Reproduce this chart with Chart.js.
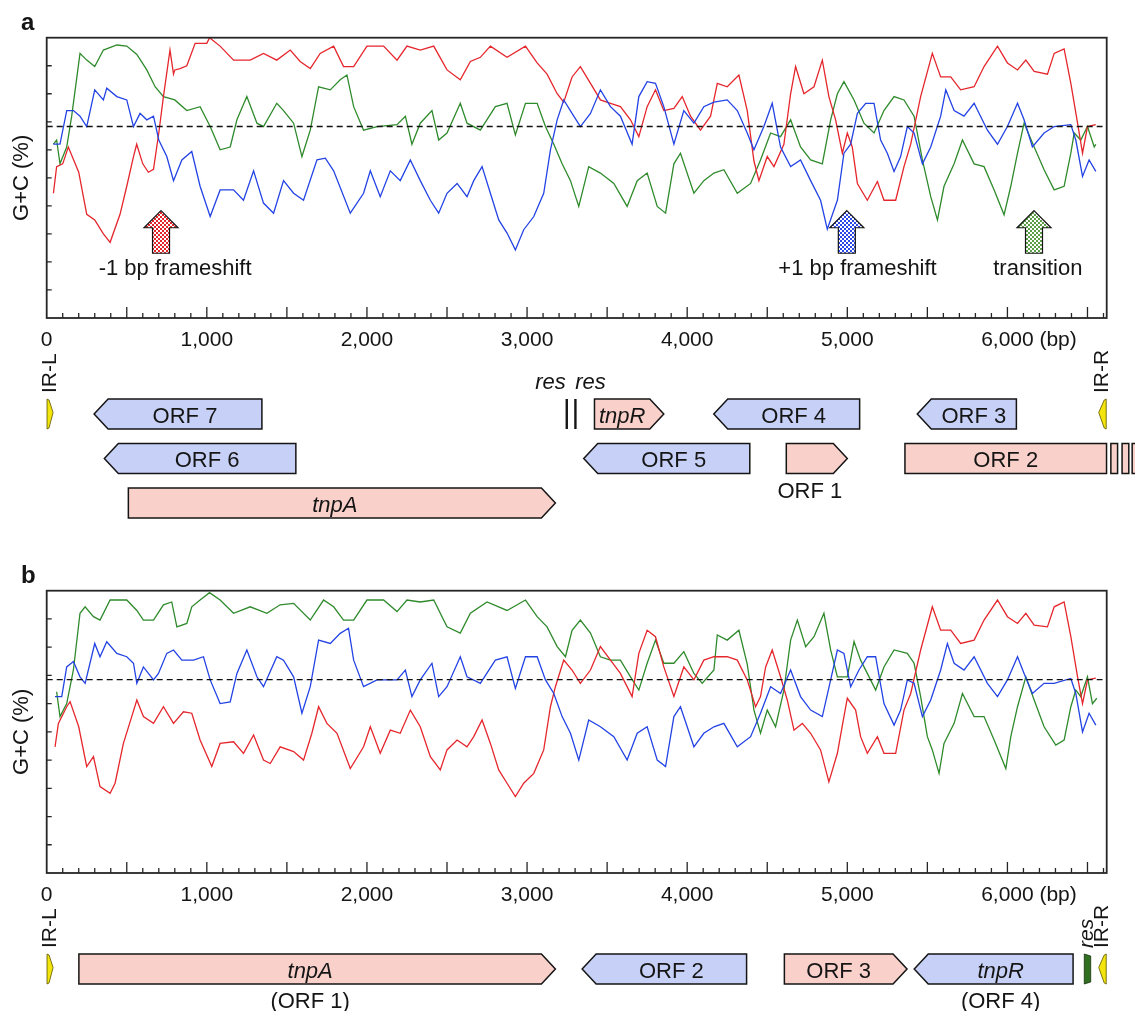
<!DOCTYPE html>
<html>
<head>
<meta charset="utf-8">
<script src="https://cdn.jsdelivr.net/npm/chart.js@4.4.0/dist/chart.umd.min.js"></script>
<style>
  html, body { margin: 0; padding: 0; background: #fff; }
  #wrap { position: relative; width: 1135px; height: 1011px; overflow: hidden; }
  canvas { position: absolute; left: 0; }
  #chartA { top: 0; }
  #chartB { top: 548px; }
</style>
</head>
<body>
<div id="wrap">
  <canvas id="chartA" width="1135" height="548"></canvas>
  <canvas id="chartB" width="1135" height="463"></canvas>
</div>
<script>
// G+C skew in the three codon positions, [position (bp), G+C (%)]
const redA = [[42,44.5],[62,54],[100,55],[135,61],[200,52],[250,37],[300,35],[354,30],[396,27],[458,37],[500,47],[542,57.6],[562,62],[600,55],[635,52],[667,53],[700,66],[729,79],[770,95.6],[792,87],[800,88.5],[833,89],[875,90],[927,98],[1000,98],[1017,100],[1083,97],[1167,92],[1271,92],[1354,94.4],[1437,92],[1521,95.6],[1583,91.5],[1646,89],[1708,94.4],[1792,97],[1854,89.7],[1917,89.7],[2000,97],[2104,97],[2188,92],[2250,97],[2333,95.6],[2417,97],[2500,88.5],[2583,85],[2646,91.5],[2708,93],[2771,97],[2875,93],[2990,97],[3063,91],[3125,87],[3188,80],[3229,77],[3281,86],[3333,89.7],[3396,83.7],[3458,77.8],[3521,76.6],[3583,75.4],[3646,70.7],[3698,64.7],[3750,75.4],[3802,81.4],[3854,74],[3917,74.8],[3969,79],[4021,72],[4083,67],[4146,72],[4188,83.7],[4250,82.5],[4323,86.7],[4375,74],[4417,56],[4448,49],[4500,57.6],[4542,54],[4604,62],[4646,80],[4677,89.7],[4729,80],[4792,82.5],[4844,92],[4885,79],[4927,70.7],[4969,58.8],[5000,66],[5031,61],[5063,48],[5125,42],[5188,48.7],[5229,42],[5302,42],[5354,54],[5396,62],[5458,79],[5531,94.4],[5583,86],[5646,86],[5708,81.4],[5792,82.5],[5854,89.7],[5938,97],[6000,91],[6063,88.5],[6115,92],[6167,88],[6250,87],[6292,94.4],[6354,96],[6396,83.7],[6438,69.5],[6469,58.8],[6500,68.3],[6552,69]];
const greenA = [[42,62],[62,63.5],[83,55],[125,61],[156,72],[208,94.4],[250,92],[300,89.7],[354,95.6],[438,97.4],[500,97],[563,94],[625,88.5],[677,82.5],[729,79],[800,77.8],[875,74],[958,75.4],[1021,68.3],[1083,60],[1146,61],[1188,70.7],[1250,79],[1313,69.5],[1354,68.3],[1437,76.6],[1479,74],[1542,69.5],[1594,57.6],[1646,67],[1698,82.5],[1771,81.4],[1833,85],[1875,86.7],[1917,75.4],[1979,67],[2063,68.3],[2188,69],[2240,72],[2281,62],[2333,69.5],[2406,74],[2448,63.5],[2500,66],[2583,76.6],[2625,69.5],[2708,67],[2802,75.4],[2875,76.6],[2927,65.3],[2990,76.6],[3063,76.6],[3115,68.3],[3167,62],[3219,55],[3271,49],[3323,39.8],[3385,54],[3458,51.7],[3542,48],[3625,39.8],[3688,49],[3750,51.7],[3813,39.8],[3865,37.4],[3917,55],[3958,58.8],[4042,44.5],[4104,49],[4167,51.7],[4229,52.9],[4313,44.5],[4396,48],[4458,56.4],[4521,66],[4583,64.7],[4646,70.7],[4708,61],[4771,56.4],[4844,55],[4896,70.7],[4938,80],[4979,84.3],[5042,77.8],[5104,69.5],[5167,66],[5229,74],[5292,79],[5354,77.8],[5417,72],[5469,56.4],[5521,43.3],[5563,35],[5604,47],[5667,55],[5719,63.5],[5792,55],[5854,54],[5917,45.7],[5979,36.8],[6021,47],[6063,58.8],[6104,69.5],[6167,61],[6229,52.9],[6292,45.7],[6354,47],[6396,58.8],[6417,66],[6458,63.5],[6500,68.3],[6542,61],[6552,62]];
const blueA = [[42,62],[83,62],[125,74],[167,74],[208,72],[250,68.3],[300,81.4],[354,77.8],[375,82],[438,79],[500,77.8],[542,68.3],[583,73],[625,70.7],[667,72],[700,63.5],[750,57.6],[792,49],[844,56.4],[906,59.4],[958,47],[1021,36.2],[1083,45.7],[1167,45.7],[1229,42],[1292,52.5],[1354,41],[1417,37.4],[1479,49],[1542,44.5],[1604,42],[1688,56.4],[1740,57],[1792,52.5],[1896,37.4],[1979,44.5],[2021,52.5],[2083,43.3],[2146,52.5],[2208,49],[2271,56.4],[2333,49],[2396,42],[2448,37.4],[2500,44.5],[2563,48],[2625,43.3],[2667,49],[2719,54],[2771,44.5],[2823,35],[2875,30.3],[2927,24.3],[2979,31.5],[3042,36.2],[3104,44.5],[3146,60],[3188,70.7],[3229,77.8],[3281,73],[3333,68.3],[3396,73],[3458,81.4],[3521,75.4],[3583,72],[3656,62],[3698,79],[3750,84.3],[3802,83.7],[3854,75.4],[3917,62],[3979,74],[4042,69.5],[4104,75.4],[4167,77],[4250,77.8],[4313,74],[4375,66],[4417,60],[4479,68.3],[4531,76.6],[4583,61],[4646,54],[4708,56.4],[4771,49],[4833,42],[4875,31.7],[4938,42],[4979,58.8],[5021,62],[5063,73],[5115,76.6],[5167,76.6],[5208,63.5],[5250,58.8],[5292,52.3],[5333,57.6],[5375,68.3],[5417,66],[5469,55],[5521,61],[5583,72],[5615,81.4],[5667,74],[5729,72],[5792,76.6],[5875,67],[5938,62],[6000,68.3],[6063,76.6],[6104,70.7],[6156,61],[6229,66],[6292,68.3],[6396,69],[6427,63.5],[6469,50.5],[6510,56.4],[6552,52.3]];

const redB = [[52,44.7],[73,53],[125,58.9],[146,60.7],[200,51.8],[250,37.7],[292,41.2],[333,30.6],[396,28.2],[427,31.8],[479,45.9],[531,55.4],[563,61.3],[604,55.4],[667,53],[729,58.9],[792,53],[854,57.1],[906,56.6],[958,47.1],[1031,37.7],[1083,45.9],[1167,46.5],[1229,42.4],[1292,48.9],[1354,40],[1396,38.8],[1458,44.7],[1542,43],[1604,40],[1656,49.5],[1698,58.9],[1750,53],[1813,49.5],[1896,37],[1979,44.7],[2021,51.8],[2083,42.4],[2146,50.6],[2208,49.5],[2271,57.7],[2333,51.8],[2396,41.2],[2458,36.5],[2500,43.6],[2563,47.1],[2625,44.7],[2667,48.3],[2719,54.2],[2771,45.9],[2823,36.5],[2875,31.8],[2927,27.1],[2979,31.8],[3042,35.3],[3104,43.6],[3146,58.9],[3177,66],[3229,75.4],[3281,71.9],[3333,67.2],[3396,71.9],[3458,80.2],[3521,75.4],[3583,70.7],[3656,62.5],[3698,77.8],[3750,86],[3802,83.7],[3854,73],[3917,62.5],[3979,73],[4042,68.4],[4104,75.4],[4167,76.6],[4250,76.6],[4313,75.4],[4375,68.4],[4427,58.9],[4458,62.5],[4490,73],[4531,79],[4583,69.5],[4625,61.3],[4667,50.6],[4719,53],[4771,49.5],[4833,43.6],[4885,32.3],[4938,42.4],[4979,55.4],[5000,61.9],[5052,57.7],[5083,48.3],[5125,42.4],[5188,48.3],[5229,42.4],[5302,42.4],[5354,57.7],[5396,63.6],[5458,79],[5531,94.3],[5583,86],[5646,86],[5708,81.3],[5792,82.5],[5854,89.6],[5938,96.7],[6000,90.8],[6063,88.4],[6115,92],[6167,87.8],[6250,87.2],[6292,94.3],[6354,96],[6396,83.7],[6438,69.5],[6469,60],[6500,68.4],[6552,69]];
const greenB = [[62,64.2],[83,55.4],[125,60],[167,72],[208,92],[240,94.3],[292,90.8],[333,89.6],[396,96.7],[500,96.7],[563,93],[604,89.6],[667,89.6],[729,95],[781,96],[813,87.2],[875,88.4],[906,94.3],[958,96.7],[1017,99.3],[1083,96.7],[1167,92],[1271,94.3],[1375,92],[1458,95],[1542,95.5],[1646,89.6],[1729,96.7],[1792,94.3],[1854,89.6],[1917,89.6],[2000,96.7],[2104,96.7],[2188,92.6],[2250,96.7],[2333,96],[2417,96.7],[2500,87.2],[2583,85],[2646,92],[2750,96],[2875,93],[2990,96.7],[3063,90.8],[3125,87.2],[3188,80.2],[3240,76.6],[3281,86],[3333,89.6],[3396,85],[3458,76.6],[3521,75.4],[3583,75.4],[3646,69.5],[3698,64.8],[3750,74.3],[3802,82.5],[3854,74.3],[3917,74.3],[3979,78.4],[4042,70.7],[4094,67.2],[4167,71.9],[4188,84.3],[4250,82.5],[4323,86],[4375,74],[4417,57.7],[4458,49.5],[4500,57.7],[4552,51.8],[4604,64.8],[4646,82.5],[4688,89.6],[4740,80.2],[4792,83.7],[4854,92],[4896,79],[4938,69.5],[5000,69.5],[5042,82],[5083,75.4],[5125,70.7],[5177,64.8],[5229,73],[5292,79],[5375,77.8],[5417,74.3],[5458,62.5],[5500,48.3],[5531,43.6],[5573,35.3],[5604,45.9],[5667,53],[5719,63.6],[5792,55.4],[5854,55.4],[5917,47.1],[5990,37],[6021,48.3],[6063,58.9],[6115,69.5],[6167,61.3],[6229,51.8],[6302,45.3],[6354,47.1],[6396,58.9],[6427,64.8],[6458,62.5],[6500,69.5],[6531,60],[6558,61.9]];
const blueB = [[52,62.5],[94,62.5],[125,73],[167,74.9],[208,69.5],[240,67.2],[300,81.3],[333,76.6],[375,81.9],[438,77.8],[500,76.6],[542,74.3],[563,67.2],[604,73],[667,68.4],[698,70.7],[750,77.8],[792,79],[844,75.4],[917,75.4],[979,76.6],[1021,68.4],[1083,60],[1146,60.6],[1188,70.7],[1250,79],[1313,69.5],[1354,66],[1437,76.6],[1479,75.4],[1542,69.5],[1594,56.6],[1646,66],[1698,82.5],[1771,81.3],[1833,84.9],[1885,86.7],[1917,75.4],[1979,66],[2063,68.4],[2188,68.4],[2240,71.9],[2281,62.5],[2333,68.4],[2406,74.3],[2448,62.5],[2500,66],[2583,76.6],[2625,69.5],[2708,67.2],[2802,75.4],[2875,76.6],[2927,65.4],[2990,76.6],[3063,76.6],[3115,68.4],[3167,63.6],[3219,55.4],[3271,49.5],[3323,40],[3385,54.2],[3458,51.8],[3542,48.3],[3625,40],[3688,49.5],[3750,51.8],[3813,40],[3865,37.7],[3917,55.4],[3958,58.9],[4042,44.7],[4104,49.5],[4167,51.8],[4229,53],[4313,44.7],[4396,48.3],[4458,56.6],[4521,66],[4583,63.6],[4646,71.9],[4708,62.5],[4771,57.7],[4844,55.4],[4896,68.4],[4938,79],[4979,77.8],[5021,66],[5073,71.9],[5125,76.6],[5177,76.6],[5229,60],[5292,52.4],[5333,57.7],[5375,68.4],[5417,67.2],[5469,55.4],[5521,61.3],[5583,71.9],[5625,81.3],[5667,74.3],[5729,71.9],[5792,76.6],[5875,67.2],[5938,62.5],[6000,68.4],[6063,76.6],[6104,70.7],[6156,63.6],[6229,67.2],[6292,67.2],[6396,68.9],[6427,63.6],[6469,50],[6510,56.6],[6552,52.4]];

// overall G+C (dashed reference line)
const meanGcA = 68.3;
const meanGcB = 68.5;

// mutation markers in panel a
const shiftBp = [714, 4997, 6166];
const shiftTextBp = [802, 5064, 6190];
const shiftText = ['-1 bp frameshift', '+1 bp frameshift', 'transition'];
const shiftColor = ['#e3262b', '#2c48e6', '#5c9e48'];

// axis ticks (bp): minor every 100, labelled every 1,000
const xTickValues = [];
for (let v = 0; v <= 6600; v += 100) xTickValues.push(v);

// gene maps (bp)
const genesA = [
  { label: 'ORF 7', start: 296, end: 1344, strand: -1, row: 0 },
  { label: 'tnpR', start: 3421, end: 3854, strand: 1, row: 0, italic: true },
  { label: 'ORF 4', start: 4166, end: 5077, strand: -1, row: 0 },
  { label: 'ORF 3', start: 5437, end: 6056, strand: -1, row: 0 },
  { label: 'ORF 6', start: 360, end: 1556, strand: -1, row: 1 },
  { label: 'ORF 5', start: 3354, end: 4391, strand: -1, row: 1 },
  { label: 'ORF 1', start: 4619, end: 5000, strand: 1, row: 1, below: true },
  { label: 'ORF 2', start: 5360, end: 6619, strand: 0, row: 1 },
  { label: '', start: 6646, end: 6688, strand: 0, row: 1 },
  { label: '', start: 6716, end: 6758, strand: 0, row: 1 },
  { label: '', start: 6779, end: 6821, strand: 0, row: 1 },
  { label: 'tnpA', start: 510, end: 3177, strand: 1, row: 2, italic: true }
];
const repeatsA = [
  { label: 'IR-L', start: 2, end: 40, strand: 1 },
  { label: 'IR-R', start: 6570, end: 6617, strand: -1 }
];
const resSitesA = [3248, 3302];
const resLabelBpA = [3146, 3396];

const genesB = [
  { label: 'tnpA', sub: '(ORF 1)', start: 201, end: 3177, strand: 1, row: 0, italic: true },
  { label: 'ORF 2', start: 3344, end: 4371, strand: -1, row: 0 },
  { label: 'ORF 3', start: 4607, end: 5373, strand: 1, row: 0 },
  { label: 'tnpR', sub: '(ORF 4)', start: 5418, end: 6410, strand: -1, row: 0, italic: true }
];
const repeatsB = [
  { label: 'IR-L', start: 2, end: 40, strand: 1 },
  { label: 'IR-R', start: 6570, end: 6617, strand: -1 }
];
const resBoxB = [{ label: 'res', start: 6480, end: 6520 }];

const FONT = '"Liberation Sans", Arial, Helvetica, sans-serif';
const INK = '#151515';
const BLUE_FILL = '#c7d1f7';
const PINK_FILL = '#f9d0ca';

const toXY = (pts) => pts.map(p => ({ x: p[0], y: p[1] }));

const trace = (pts, color) => ({
  data: toXY(pts),
  borderColor: color,
  borderWidth: 1.3,
  pointRadius: 0,
  tension: 0,
  fill: false
});

const dashed = (gc) => ({
  data: [{ x: 0, y: gc }, { x: 6594, y: gc }],
  borderColor: '#111',
  borderWidth: 1.4,
  borderDash: [6, 4],
  pointRadius: 0,
  fill: false
});

function checker(ctx, color) {
  const c = document.createElement('canvas');
  c.width = 4; c.height = 4;
  const g = c.getContext('2d');
  g.fillStyle = '#fff';
  g.fillRect(0, 0, 4, 4);
  g.fillStyle = color;
  g.fillRect(0, 0, 2, 2);
  g.fillRect(2, 2, 2, 2);
  return ctx.createPattern(c, 'repeat');
}

function drawGene(ctx, xs, g, top, h) {
  const x0 = xs.getPixelForValue(g.start);
  const x1 = xs.getPixelForValue(g.end);
  const head = g.strand === 0 ? 0 : Math.min(14, x1 - x0);
  ctx.beginPath();
  if (g.strand > 0) {
    ctx.moveTo(x0, top);
    ctx.lineTo(x1 - head, top);
    ctx.lineTo(x1, top + h / 2);
    ctx.lineTo(x1 - head, top + h);
    ctx.lineTo(x0, top + h);
  } else if (g.strand < 0) {
    ctx.moveTo(x1, top);
    ctx.lineTo(x0 + head, top);
    ctx.lineTo(x0, top + h / 2);
    ctx.lineTo(x0 + head, top + h);
    ctx.lineTo(x1, top + h);
  } else {
    ctx.rect(x0, top, x1 - x0, h);
  }
  ctx.closePath();
  ctx.fillStyle = g.strand < 0 ? BLUE_FILL : PINK_FILL;
  ctx.fill();
  ctx.strokeStyle = INK;
  ctx.lineWidth = 1.5;
  ctx.stroke();

  if (!g.label) return;
  let cx = (x0 + x1) / 2;
  if (g.strand > 0) cx = (x0 + x1 - head) / 2;
  if (g.strand < 0) cx = (x0 + head + x1) / 2;
  ctx.fillStyle = INK;
  ctx.textAlign = 'center';
  ctx.textBaseline = 'alphabetic';
  ctx.font = (g.italic ? 'italic ' : '') + '22px ' + FONT;
  if (g.below) {
    ctx.fillText(g.label, cx, top + h + 24);
  } else {
    ctx.fillText(g.label, cx, top + 23.5);
  }
  if (g.sub) {
    ctx.font = '22px ' + FONT;
    ctx.fillText(g.sub, cx, top + h + 24);
  }
}

function rotatedLabel(ctx, text, x, yEnd, font) {
  ctx.save();
  ctx.translate(x, yEnd);
  ctx.rotate(-Math.PI / 2);
  ctx.font = font;
  ctx.textAlign = 'left';
  ctx.textBaseline = 'middle';
  ctx.fillStyle = INK;
  ctx.fillText(text, 0, 0);
  ctx.restore();
}

function drawRepeat(ctx, xs, r, top, h) {
  const x0 = xs.getPixelForValue(r.start);
  const x1 = xs.getPixelForValue(r.end);
  ctx.beginPath();
  if (r.strand > 0) {
    ctx.moveTo(x0, top);
    ctx.lineTo(x0 + 2, top + 1);
    ctx.lineTo(x1, top + h * 0.45);
    ctx.lineTo(x0 + 2, top + h - 1);
    ctx.lineTo(x0, top + h);
  } else {
    ctx.moveTo(x1, top);
    ctx.lineTo(x1 - 2, top + 1);
    ctx.lineTo(x0, top + h * 0.45);
    ctx.lineTo(x1 - 2, top + h - 1);
    ctx.lineTo(x1, top + h);
  }
  ctx.closePath();
  ctx.fillStyle = '#f2e40c';
  ctx.fill();
  ctx.strokeStyle = '#5d5500';
  ctx.lineWidth = 0.8;
  ctx.stroke();
  rotatedLabel(ctx, r.label, (x0 + x1) / 2, top - 6, '21px ' + FONT);
}

const decorPlugin = {
  id: 'decor',
  afterDatasetsDraw(chart, args, o) {
    const { ctx, chartArea: a } = chart;
    const xs = chart.scales.x;
    const ys = chart.scales.y;
    ctx.save();

    // plot frame
    ctx.strokeStyle = '#262626';
    ctx.lineWidth = 1.8;
    ctx.strokeRect(a.left, a.top, a.right - a.left, a.bottom - a.top);

    // inward tick marks
    ctx.lineWidth = 1.3;
    ctx.beginPath();
    xs.ticks.forEach(t => {
      const v = Math.round(t.value);
      if (v <= 0) return;
      const px = xs.getPixelForValue(v);
      const len = v % 500 === 0 ? 11 : 5;
      ctx.moveTo(px, a.bottom);
      ctx.lineTo(px, a.bottom - len);
    });
    ys.ticks.forEach(t => {
      if (t.value <= ys.min || t.value >= ys.max) return;
      const py = ys.getPixelForValue(t.value);
      ctx.moveTo(a.left, py);
      ctx.lineTo(a.left + 5, py);
    });
    ctx.stroke();

    // x tick labels
    ctx.fillStyle = INK;
    ctx.font = '21px ' + FONT;
    ctx.textBaseline = 'alphabetic';
    const majors = xs.ticks.map(t => Math.round(t.value)).filter(v => v % 1000 === 0);
    majors.forEach((v, i) => {
      const px = xs.getPixelForValue(v);
      ctx.textAlign = 'center';
      ctx.fillText(v.toLocaleString('en-US'), px, a.bottom + 28);
      if (i === majors.length - 1) {
        ctx.textAlign = 'left';
        ctx.fillText('(bp)', px + 32, a.bottom + 28);
      }
    });

    // y title
    ctx.save();
    ctx.translate(22, (a.top + a.bottom) / 2);
    ctx.rotate(-Math.PI / 2);
    ctx.font = '22px ' + FONT;
    ctx.textAlign = 'center';
    ctx.textBaseline = 'middle';
    ctx.fillText('G+C (%)', 0, 0);
    ctx.restore();

    // panel letter
    ctx.font = 'bold 24px ' + FONT;
    ctx.textAlign = 'left';
    ctx.textBaseline = 'alphabetic';
    ctx.fillText(o.letter, 21, a.top - 8);

    // frameshift / transition markers
    (o.markers || []).forEach(m => {
      const px = xs.getPixelForValue(m.bp);
      const tip = ys.getPixelForValue(38.3);
      const base = ys.getPixelForValue(32.2);
      const bottom = ys.getPixelForValue(23.1);
      ctx.beginPath();
      ctx.moveTo(px, tip);
      ctx.lineTo(px + 17, base);
      ctx.lineTo(px + 8.5, base);
      ctx.lineTo(px + 8.5, bottom);
      ctx.lineTo(px - 8.5, bottom);
      ctx.lineTo(px - 8.5, base);
      ctx.lineTo(px - 17, base);
      ctx.closePath();
      ctx.fillStyle = checker(ctx, m.color);
      ctx.fill();
      ctx.strokeStyle = INK;
      ctx.lineWidth = 1.2;
      ctx.stroke();
      ctx.fillStyle = INK;
      ctx.font = '22px ' + FONT;
      ctx.textAlign = 'center';
      ctx.fillText(m.text, xs.getPixelForValue(m.textBp), ys.getPixelForValue(15.4));
    });

    // gene map below the axis
    const rowTop = (r) => a.bottom + 81 + r * 44.5;
    const H = 30;
    (o.genes || []).forEach(g => drawGene(ctx, xs, g, rowTop(g.row), H));
    (o.repeats || []).forEach(r => drawRepeat(ctx, xs, r, rowTop(0), H));

    (o.resSites || []).forEach(bp => {
      const px = xs.getPixelForValue(bp);
      ctx.beginPath();
      ctx.moveTo(px, rowTop(0));
      ctx.lineTo(px, rowTop(0) + H);
      ctx.strokeStyle = INK;
      ctx.lineWidth = 2.4;
      ctx.stroke();
    });
    (o.resLabels || []).forEach(bp => {
      ctx.fillStyle = INK;
      ctx.font = 'italic 22px ' + FONT;
      ctx.textAlign = 'center';
      ctx.fillText('res', xs.getPixelForValue(bp), rowTop(0) - 10);
    });
    (o.resBoxes || []).forEach(r => {
      const x0 = xs.getPixelForValue(r.start);
      const x1 = xs.getPixelForValue(r.end);
      const top = rowTop(0);
      ctx.beginPath();
      ctx.moveTo(x0, top);
      ctx.lineTo(x1, top + 2);
      ctx.lineTo(x1, top + H - 2);
      ctx.lineTo(x0, top + H);
      ctx.closePath();
      ctx.fillStyle = '#2f6f1f';
      ctx.fill();
      ctx.strokeStyle = '#16300c';
      ctx.lineWidth = 0.8;
      ctx.stroke();
      rotatedLabel(ctx, r.label, (x0 + x1) / 2, top - 6, 'italic 21px ' + FONT);
    });

    ctx.restore();
  }
};

const markersA = shiftBp.map((bp, i) => ({
  bp: bp, textBp: shiftTextBp[i], text: shiftText[i], color: shiftColor[i]
}));

function makeChart(id, series, gc, pad, decor) {
  return new Chart(document.getElementById(id), {
    type: 'line',
    data: {
      datasets: [
        dashed(gc),
        trace(series[2], '#2343e4'),
        trace(series[0], '#e5262c'),
        trace(series[1], '#2f8a2c')
      ]
    },
    options: {
      responsive: false,
      animation: false,
      devicePixelRatio: 1,
      layout: { padding: pad },
      plugins: {
        legend: { display: false },
        tooltip: { enabled: false },
        decor: decor
      },
      scales: {
        x: {
          type: 'linear', display: false, min: 0, max: 6620,
          ticks: { autoSkip: false },
          afterBuildTicks: (scale) => { scale.ticks = xTickValues.map(v => ({ value: v })); }
        },
        y: { display: false, min: 0, max: 100, ticks: { stepSize: 10, autoSkip: false } }
      }
    },
    plugins: [decorPlugin]
  });
}

makeChart('chartA', [redA, greenA, blueA], meanGcA,
  { left: 46.7, right: 28.3, top: 37.7, bottom: 230 },
  { letter: 'a', markers: markersA, genes: genesA, repeats: repeatsA,
    resSites: resSitesA, resLabels: resLabelBpA });

makeChart('chartB', [redB, greenB, blueB], meanGcB,
  { left: 46.7, right: 28.3, top: 42.7, bottom: 138 },
  { letter: 'b', genes: genesB, repeats: repeatsB, resBoxes: resBoxB });
</script>
</body>
</html>
